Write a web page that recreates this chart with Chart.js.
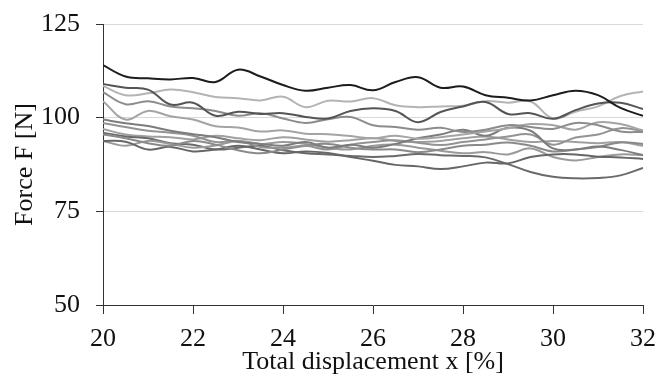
<!DOCTYPE html>
<html>
<head>
<meta charset="utf-8">
<script src="https://cdn.jsdelivr.net/npm/chart.js@4/dist/chart.umd.min.js"></script>
<style>
  body { margin: 0; background: #fff; }
  canvas { display: block; }
</style>
</head>
<body>
<canvas id="forceChart" width="658" height="376"></canvas>
<script>
// displacement x [%], step 0.5
const xs = [20, 20.5, 21, 21.5, 22, 22.5, 23, 23.5, 24, 24.5, 25, 25.5, 26,
            26.5, 27, 27.5, 28, 28.5, 29, 29.5, 30, 30.5, 31, 31.5, 32];

// force F [N] per sample
const s1  = [114, 111, 110.5, 110.2, 110.6, 109.5, 112.8, 111, 108.7, 107.2, 108, 108.7, 107.3, 109.5, 110.8, 108, 108.3, 106, 105.3, 104.6, 106, 107.2, 106, 102.6, 100.5];
const s2  = [109, 108, 107.5, 103.5, 104, 100.5, 101.6, 101, 101.2, 100.2, 99.8, 101.8, 102.5, 101.8, 98.8, 101.5, 103, 104.2, 101, 101.2, 99.7, 102, 103.8, 104, 102.3];
const s3  = [108.5, 106, 106.5, 107.5, 106.8, 105.5, 105.2, 104.6, 105.6, 102.8, 104.5, 104.3, 105.2, 103.3, 102.8, 103, 103.2, 104.4, 104, 104.3, 99.8, 101.6, 103, 105.8, 107];
const s4  = [106.8, 103.6, 104.4, 103, 102.5, 101.8, 100.5, 101.2, 99.8, 98.6, 99.6, 100.2, 98, 97.5, 96.8, 97.3, 96.2, 96.8, 98, 97.5, 97, 98.6, 98, 96.3, 96.2];
const s5  = [104.4, 99.5, 101.8, 100.4, 99.5, 97.7, 97.4, 96.3, 96.6, 95.7, 95.6, 95.1, 94.5, 95.2, 94.4, 94.8, 95.5, 96.3, 97.2, 98.3, 98, 96.8, 98.8, 98.3, 96.6];
const s6  = [99.5, 98.5, 97.8, 96.5, 95.6, 94.8, 93.5, 93, 92.5, 93.5, 92, 92.8, 92, 93, 94.5, 95.5, 96.8, 95.2, 97.3, 96.5, 91.8, 91.5, 92.3, 91.4, 90];
const s7  = [98.6, 97.5, 96.5, 96, 95.2, 93.5, 93.8, 92.2, 92, 92.5, 91.5, 92.8, 93.5, 94, 93.3, 92.7, 93.5, 94.2, 95, 95.5, 92.8, 94.7, 95.5, 97.2, 96.4];
const s8  = [95.5, 94.5, 93.2, 92.5, 93.8, 92.8, 91.3, 90.5, 91.5, 92.5, 93, 92, 91.5, 91.5, 90.8, 91.5, 92.5, 92.8, 93.4, 92.5, 91, 91.5, 92.2, 93.4, 93];
const s9  = [93.8, 93.6, 91.5, 92.2, 91, 91.5, 92.5, 91.5, 90.5, 91, 90.6, 89.5, 88.5, 87.4, 87, 86.3, 87, 88, 87.8, 89.5, 90.2, 90.2, 89.6, 89.4, 89];
const s10 = [93.8, 92.5, 93.8, 93, 92, 92.6, 93.8, 93, 93.5, 93, 92, 91.5, 92.5, 92.8, 92, 91.2, 90.5, 90.8, 90.2, 91.8, 89.5, 88.6, 89.5, 90.2, 90];
const s11 = [96, 95, 94.5, 93.2, 92.8, 91.5, 92, 92.5, 91.3, 90.5, 90.2, 89.8, 89.5, 89.8, 90.3, 90, 89.8, 89.4, 87.6, 85.5, 84.2, 83.8, 83.9, 84.6, 86.6];
const s12 = [97, 95.5, 95, 94.8, 94.2, 95.2, 94.5, 94, 94.8, 94.2, 93.6, 94, 94.5, 93.8, 93.5, 93.8, 94.5, 95, 94.2, 93.5, 93.8, 93.5, 93.2, 93.5, 92.5];

const series = [s1, s2, s3, s4, s5, s6, s7, s8, s9, s10, s11, s12];
const greys = ['#1c1c1c', '#555555', '#b4b4b4', '#8c8c8c', '#a4a4a4', '#7c7c7c',
               '#939393', '#8a8a8a', '#666666', '#9a9a9a', '#6a6a6a', '#a0a0a0'];

const yTicks = [50, 75, 100, 125];

const serif = "'Liberation Serif', 'Times New Roman', serif";

new Chart(document.getElementById('forceChart'), {
    type: 'line',
    data: {
        datasets: series.map((ys, i) => ({
            data: xs.map((x, j) => ({ x: x, y: ys[j] })),
            borderColor: greys[i],
            borderWidth: 2,
            pointRadius: 0,
            tension: 0.4,
            fill: false
        }))
    },
    options: {
        responsive: false,
        animation: false,
        devicePixelRatio: 1,
        layout: { padding: { top: 24, right: 15, left: 0, bottom: 0 } },
        plugins: { legend: { display: false }, tooltip: { enabled: false } },
        scales: {
            x: {
                type: 'linear',
                min: 20,
                max: 32,
                afterFit: scale => {
                    scale.height = 71;
                    scale.paddingLeft = 0;
                    scale.paddingRight = 0;
                },
                ticks: { stepSize: 2, color: '#111', padding: 10, font: { family: serif, size: 26 } },
                grid: { drawOnChartArea: false, tickLength: 9, tickColor: '#333' },
                border: { color: '#333', width: 1 },
                title: {
                    display: true,
                    text: 'Total displacement x [%]',
                    color: '#111',
                    font: { family: serif, size: 26 },
                    padding: { top: 0, bottom: -2 }
                }
            },
            y: {
                min: 50,
                max: 125,
                afterFit: scale => {
                    scale.width = 103;
                    scale.paddingTop = 0;
                    scale.paddingBottom = 0;
                },
                afterBuildTicks: scale => { scale.ticks = yTicks.map(v => ({ value: v })); },
                ticks: { color: '#111', padding: 16, font: { family: serif, size: 26 } },
                grid: {
                    color: ctx => ctx.tick && ctx.tick.value === 50 ? 'rgba(0,0,0,0)' : '#d9d9d9',
                    tickLength: 7,
                    tickColor: '#333'
                },
                border: { color: '#333', width: 1 },
                title: {
                    display: true,
                    text: 'Force F [N]',
                    color: '#111',
                    font: { family: serif, size: 26 },
                    padding: { top: 10, bottom: 0 }
                }
            }
        }
    }
});
</script>
</body>
</html>
